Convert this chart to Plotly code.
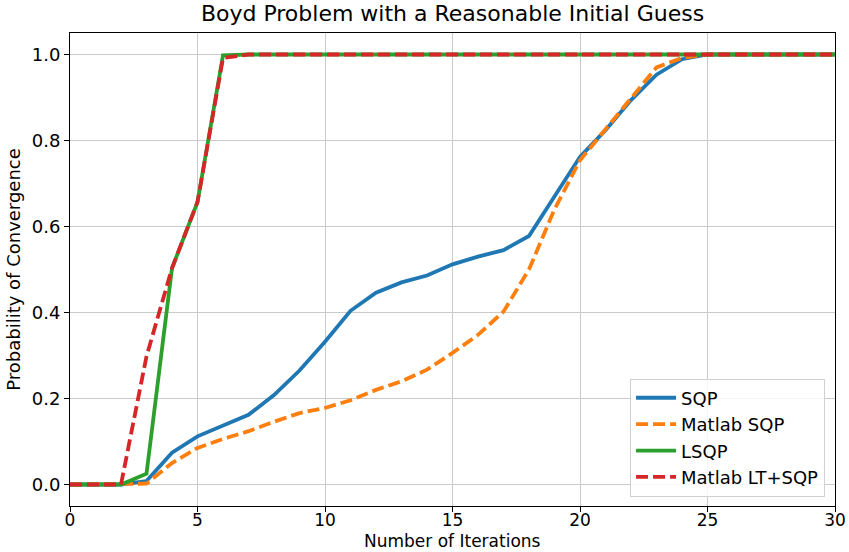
import plotly.graph_objects as go

iterations = list(range(0, 31))

sqp = [0, 0, 0, 0.008, 0.074, 0.112, 0.136, 0.162, 0.208, 0.265, 0.332, 0.404,
       0.446, 0.470, 0.486, 0.512, 0.530, 0.545, 0.578, 0.668, 0.762, 0.824,
       0.894, 0.953, 0.989, 1.0, 1.0, 1.0, 1.0, 1.0, 1.0]
matlab_sqp = [0, 0, 0, 0.002, 0.050, 0.085, 0.106, 0.124, 0.146, 0.166, 0.178,
              0.196, 0.220, 0.240, 0.267, 0.306, 0.348, 0.402, 0.500, 0.640,
              0.754, 0.826, 0.900, 0.970, 0.992, 1.0, 1.0, 1.0, 1.0, 1.0, 1.0]
lsqp = [0, 0, 0, 0.025, 0.503, 0.657, 0.998, 1.0, 1.0, 1.0, 1.0, 1.0, 1.0, 1.0,
        1.0, 1.0, 1.0, 1.0, 1.0, 1.0, 1.0, 1.0, 1.0, 1.0, 1.0, 1.0, 1.0, 1.0,
        1.0, 1.0, 1.0]
matlab_lt_sqp = [0, 0, 0, 0.298, 0.503, 0.657, 0.992, 1.0, 1.0, 1.0, 1.0, 1.0,
                 1.0, 1.0, 1.0, 1.0, 1.0, 1.0, 1.0, 1.0, 1.0, 1.0, 1.0, 1.0,
                 1.0, 1.0, 1.0, 1.0, 1.0, 1.0, 1.0]

x_ticks = [0, 5, 10, 15, 20, 25, 30]
y_ticks = [0.0, 0.2, 0.4, 0.6, 0.8, 1.0]

series = [
    ("SQP", sqp, "#1f77b4", "solid"),
    ("Matlab SQP", matlab_sqp, "#ff7f0e", "12px,5px"),
    ("LSQP", lsqp, "#2ca02c", "solid"),
    ("Matlab LT+SQP", matlab_lt_sqp, "#d62728", "12px,5px"),
]

fig = go.Figure()
for name, values, color, dash in series:
    fig.add_trace(go.Scatter(
        x=iterations, y=values, mode="lines", name=name,
        line=dict(color=color, width=3.8, dash=dash),
    ))

axis_common = dict(
    showline=True, linecolor="black", linewidth=1, mirror=True,
    showgrid=True, gridcolor="#cacaca", gridwidth=1,
    ticks="outside", ticklen=5, tickwidth=1, tickcolor="black",
    zeroline=False, automargin=False,
    title_font=dict(size=18, color="black"),
)

fig.update_xaxes(range=[0, 30], tickvals=x_ticks, ticklabelstandoff=-6,
                 tickfont=dict(size=17, color="black"), **axis_common)
fig.update_yaxes(range=[-0.05, 1.05], tickvals=y_ticks, tickformat=".1f",
                 title_text="Probability of Convergence", title_standoff=6,
                 tickfont=dict(size=18, color="black"), **axis_common)

# x-axis title placed as a paper annotation just beneath the tick labels
fig.add_annotation(text="Number of Iterations", xref="paper", yref="paper",
                   x=0.5, y=-0.075, xanchor="center", yanchor="middle",
                   showarrow=False, borderpad=0,
                   font=dict(size=17, color="black"))

fig.update_layout(
    width=849, height=552,
    margin=dict(l=70, r=14, t=33, b=46, autoexpand=False),
    paper_bgcolor="white", plot_bgcolor="white",
    font=dict(family="DejaVu Sans", color="black"),
    title=dict(text="Boyd Problem with a Reasonable Initial Guess",
               x=0.5, xanchor="center", y=0.99, yanchor="top",
               xref="paper", font=dict(size=22)),
    legend=dict(x=0.987, y=0.02, xanchor="right", yanchor="bottom",
                bgcolor="rgba(255,255,255,0.85)", bordercolor="#d0d0d0",
                borderwidth=1, font=dict(size=18), tracegroupgap=0,
                itemwidth=40),
    showlegend=True,
)

fig.write_html("out.html")
